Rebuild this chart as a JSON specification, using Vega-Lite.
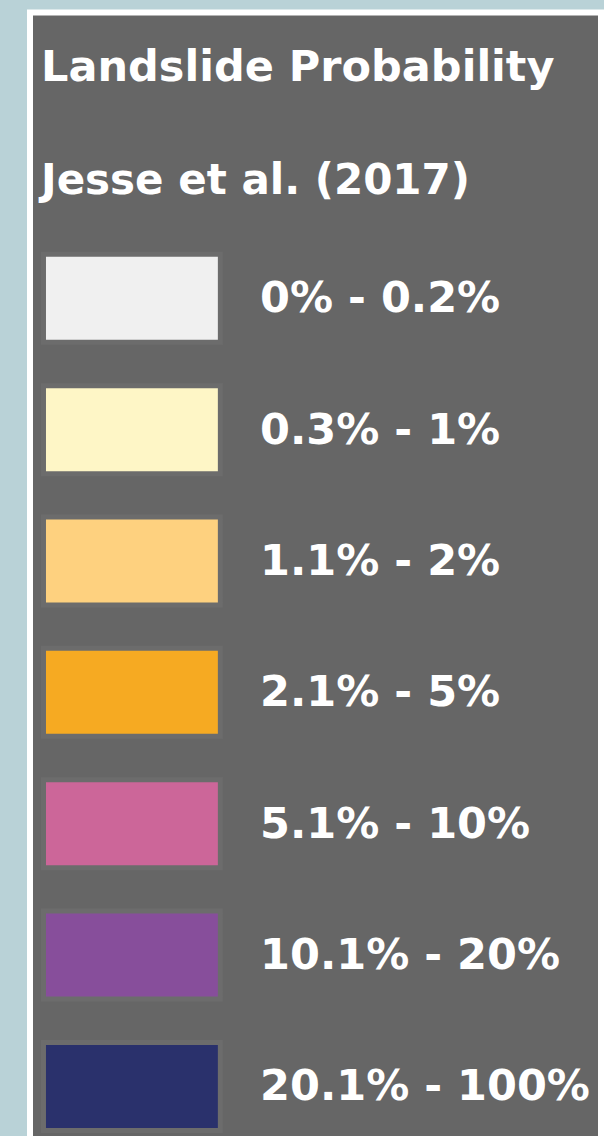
{
  "$schema": "https://vega.github.io/schema/vega-lite/v6.json",
  "width": 571,
  "height": 1128,
  "autosize": {"type": "none"},
  "padding": {"left": 30, "right": 3, "top": 12.5, "bottom": 0},
  "background": "#b9d2d7",
  "config": {
    "view": {"fill": "#666666", "stroke": "#ffffff", "strokeWidth": 6},
    "font": "DejaVu Sans"
  },
  "title": {
    "text": "Landslide Probability",
    "subtitle": "Jesse et al. (2017)",
    "anchor": "start",
    "frame": "group",
    "orient": "top",
    "offset": -189,
    "dx": 11,
    "font": "DejaVu Sans",
    "fontSize": 43,
    "fontWeight": "bold",
    "color": "#ffffff",
    "subtitleFont": "DejaVu Sans",
    "subtitleFontSize": 42,
    "subtitleFontWeight": "bold",
    "subtitleColor": "#ffffff",
    "subtitlePadding": 71
  },
  "data": {
    "values": [
      {"range": "0% - 0.2%", "color": "#f0f0f0"},
      {"range": "0.3% - 1%", "color": "#fef6c6"},
      {"range": "1.1% - 2%", "color": "#fed17f"},
      {"range": "2.1% - 5%", "color": "#f6aa22"},
      {"range": "5.1% - 10%", "color": "#cc6699"},
      {"range": "10.1% - 20%", "color": "#874e9b"},
      {"range": "20.1% - 100%", "color": "#2a316c"}
    ]
  },
  "encoding": {
    "y": {
      "field": "range",
      "type": "nominal",
      "sort": null,
      "axis": null,
      "scale": {"type": "band", "paddingInner": 0.368, "paddingOuter": 0.978, "align": 0.951}
    }
  },
  "layer": [
    {
      "mark": {"type": "bar", "fill": "#6c6c6c", "stroke": "#6c6c6c", "strokeWidth": 10},
      "encoding": {
        "x": {"datum": 2.8, "type": "quantitative", "scale": {"domain": [0, 100]}, "axis": null},
        "x2": {"datum": 32.9}
      }
    },
    {
      "mark": {"type": "bar"},
      "encoding": {
        "x": {"datum": 2.8, "type": "quantitative"},
        "x2": {"datum": 32.9},
        "color": {"field": "color", "type": "nominal", "scale": null, "legend": null}
      }
    },
    {
      "mark": {"type": "text", "align": "left", "baseline": "middle", "font": "DejaVu Sans", "fontSize": 43, "fontWeight": "bold", "color": "#ffffff", "dy": 1},
      "encoding": {
        "x": {"datum": 40.3, "type": "quantitative"},
        "text": {"field": "range", "type": "nominal"}
      }
    }
  ]
}
